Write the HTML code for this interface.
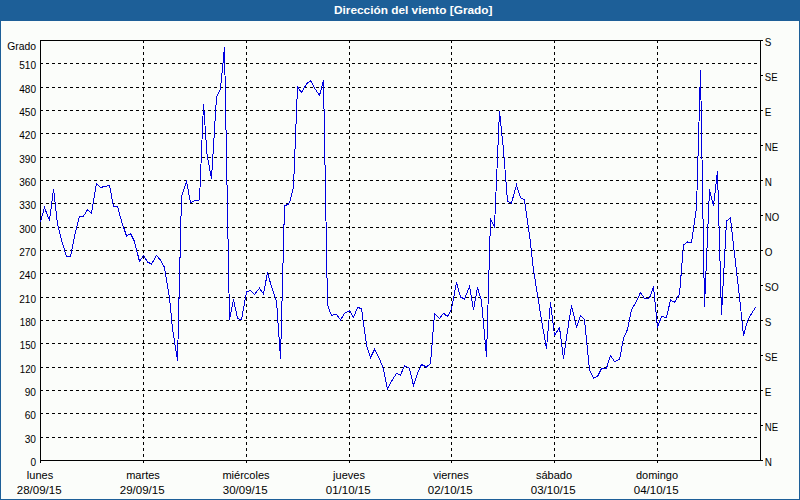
<!DOCTYPE html>
<html><head><meta charset="utf-8"><style>
html,body{margin:0;padding:0;width:800px;height:500px;overflow:hidden;background:#fbfdfa;}
svg{display:block;}
text{font-family:"Liberation Sans",sans-serif;font-size:11px;fill:#000000;}
</style></head><body>
<svg width="800" height="500" viewBox="0 0 800 500">
<rect x="0" y="0" width="800" height="500" fill="#fbfdfa"/>
<rect x="0" y="0" width="800" height="21" fill="#1d5f98"/>
<rect x="0" y="21" width="1" height="479" fill="#1d5f98"/>
<rect x="799" y="21" width="1" height="479" fill="#1d5f98"/>
<rect x="0" y="499" width="800" height="1" fill="#1d5f98"/>
<text x="334" y="14" textLength="158.5" lengthAdjust="spacingAndGlyphs" style="font-weight:bold;fill:#ffffff">Dirección del viento [Grado]</text>
<g shape-rendering="crispEdges" stroke="#000" stroke-width="1" fill="none">
<path d="M40 437.5H760 M40 413.5H760 M40 390.5H760 M40 367.5H760 M40 343.5H760 M40 320.5H760 M40 297.5H760 M40 273.5H760 M40 250.5H760 M40 227.5H760 M40 203.5H760 M40 180.5H760 M40 157.5H760 M40 133.5H760 M40 110.5H760 M40 87.5H760 M40 63.5H760" stroke-dasharray="3 3"/>
<path d="M143.5 40V460 M246.5 40V460 M349.5 40V460 M451.5 40V460 M554.5 40V460 M657.5 40V460" stroke-dasharray="3 3"/>
<path d="M40.5 40.5H760.5V460.5H40.5Z"/>
<path d="M760 40.5H763 M760 75.5H763 M760 110.5H763 M760 145.5H763 M760 180.5H763 M760 215.5H763 M760 250.5H763 M760 285.5H763 M760 320.5H763 M760 355.5H763 M760 390.5H763 M760 425.5H763 M760 460.5H763 M40.5 460V463 M143.5 460V463 M246.5 460V463 M349.5 460V463 M451.5 460V463 M554.5 460V463 M657.5 460V463"/>
</g>
<polyline points="40.5,221.8 44.5,207.6 49.5,220.5 53.5,189 57.5,224 61.5,240.25 66.5,256.5 70.5,256.5 74.5,236.25 79.5,216 83.5,216 87.5,209.9 91.5,213.5 96.5,183.5 100.5,187.5 104.5,186.5 109.5,185.5 113.5,206.5 117.5,206.2 121.5,221.1 126.5,236 130.5,233.5 134.5,241.5 139.5,261.5 143.5,255.5 147.5,262 151.5,264 156.5,255.5 160.5,260 164.5,267.5 169.5,297.5 172.5,328.5 177.5,360.5 181.5,196.25 186.5,181.25 190.5,202.5 194.5,200.75 199.5,200 203.5,104 207,154 211.5,178.75 216.5,97 220.5,88.75 224.5,47 229.5,320 233.5,299.4 237.5,318.5 241.5,319.75 246.5,291.9 250.5,290.6 254.5,294.4 259.5,288.2 263.5,294 267.5,272.5 271.5,286.75 276.5,301 280.5,358.5 284.5,206 289.5,203.5 293.5,187 297.5,86.9 301.5,92.5 306.5,84 310.5,80.5 314.5,88 319.5,95.5 323.5,80 327.5,305 331.5,315.5 336.5,314.2 340.5,320 344.5,313.5 349.5,310.5 353.5,317.4 357.5,307.5 361.5,308.5 366.5,345 370.5,357.5 374.5,349.5 379.5,359 383.5,369 387.5,389 391.5,381.25 396.5,373.5 400.5,375 404.5,365.5 409.5,368.5 413.5,385.5 417.5,373.5 421.5,364.5 426.5,367 430.5,363.5 434.5,313.5 439.5,318.5 443.5,313.2 447.5,316.5 451.5,309 456.5,282.5 460.5,297 464.5,299 469.5,286.5 473.5,309.5 477.5,287.5 481.5,301 486.5,356.5 490.5,219 494.5,226.5 499.5,111 503.5,150 507.5,201.5 511.5,203 516.5,185 520.5,197.5 524.5,200 529.5,235 533.5,270 537.5,295 541.5,320 546.5,348.5 550.5,302.5 554.5,335.5 559.5,327.5 563.5,358.5 567.5,331 571.5,305.5 576.5,327 580.5,315.5 584.5,319.5 589.5,370 593.5,378 597.5,376.5 601.5,368.5 606.5,368.2 610.5,355.5 614.5,361.5 619.5,359.5 623.5,338.5 627.5,329.5 631.5,310 636.5,301.25 640.5,292.5 644.5,298.5 649.5,298 653.5,286.5 657.5,327.5 661.5,316.5 666.5,317.5 670.5,300 674.5,302.5 679.5,294 683.5,245 687.5,242 691.5,242.5 696.5,208 700.5,70 704.5,306.5 709.5,189.5 713.5,206 717.5,171 721.5,314.5 726.5,221 730.5,218 734.5,254 739.5,297 743.5,335.5 747.5,321 751.5,313.5 755.5,307.5" fill="none" stroke="#0000e0" stroke-width="1" shape-rendering="crispEdges"/>
<text x="36" y="50" text-anchor="end" textLength="28.8" lengthAdjust="spacingAndGlyphs">Grado</text>
<text x="36" y="466" text-anchor="end" textLength="5.6" lengthAdjust="spacingAndGlyphs">0</text><text x="36" y="443" text-anchor="end" textLength="11.3" lengthAdjust="spacingAndGlyphs">30</text><text x="36" y="419" text-anchor="end" textLength="11.3" lengthAdjust="spacingAndGlyphs">60</text><text x="36" y="396" text-anchor="end" textLength="11.3" lengthAdjust="spacingAndGlyphs">90</text><text x="36" y="373" text-anchor="end" textLength="16.2" lengthAdjust="spacingAndGlyphs">120</text><text x="36" y="349" text-anchor="end" textLength="16.2" lengthAdjust="spacingAndGlyphs">150</text><text x="36" y="326" text-anchor="end" textLength="16.2" lengthAdjust="spacingAndGlyphs">180</text><text x="36" y="303" text-anchor="end" textLength="16.8" lengthAdjust="spacingAndGlyphs">210</text><text x="36" y="279" text-anchor="end" textLength="16.8" lengthAdjust="spacingAndGlyphs">240</text><text x="36" y="256" text-anchor="end" textLength="16.8" lengthAdjust="spacingAndGlyphs">270</text><text x="36" y="233" text-anchor="end" textLength="16.8" lengthAdjust="spacingAndGlyphs">300</text><text x="36" y="209" text-anchor="end" textLength="16.8" lengthAdjust="spacingAndGlyphs">330</text><text x="36" y="186" text-anchor="end" textLength="16.8" lengthAdjust="spacingAndGlyphs">360</text><text x="36" y="163" text-anchor="end" textLength="16.8" lengthAdjust="spacingAndGlyphs">390</text><text x="36" y="139" text-anchor="end" textLength="16.8" lengthAdjust="spacingAndGlyphs">420</text><text x="36" y="116" text-anchor="end" textLength="16.8" lengthAdjust="spacingAndGlyphs">450</text><text x="36" y="93" text-anchor="end" textLength="16.8" lengthAdjust="spacingAndGlyphs">480</text><text x="36" y="69" text-anchor="end" textLength="16.8" lengthAdjust="spacingAndGlyphs">510</text>
<text x="764.8" y="46" textLength="6.61" lengthAdjust="spacingAndGlyphs">S</text><text x="764.8" y="81" textLength="12.78" lengthAdjust="spacingAndGlyphs">SE</text><text x="764.8" y="116" textLength="6.61" lengthAdjust="spacingAndGlyphs">E</text><text x="764.8" y="151" textLength="13.29" lengthAdjust="spacingAndGlyphs">NE</text><text x="764.8" y="186" textLength="7.16" lengthAdjust="spacingAndGlyphs">N</text><text x="764.8" y="221" textLength="14.36" lengthAdjust="spacingAndGlyphs">NO</text><text x="764.8" y="256" textLength="7.7" lengthAdjust="spacingAndGlyphs">O</text><text x="764.8" y="291" textLength="13.83" lengthAdjust="spacingAndGlyphs">SO</text><text x="764.8" y="326" textLength="6.61" lengthAdjust="spacingAndGlyphs">S</text><text x="764.8" y="361" textLength="12.78" lengthAdjust="spacingAndGlyphs">SE</text><text x="764.8" y="396" textLength="6.61" lengthAdjust="spacingAndGlyphs">E</text><text x="764.8" y="431" textLength="13.29" lengthAdjust="spacingAndGlyphs">NE</text><text x="764.8" y="466" textLength="7.16" lengthAdjust="spacingAndGlyphs">N</text>
<text x="40" y="479" text-anchor="middle">lunes</text><text x="39.2" y="494" text-anchor="middle" textLength="44.8" lengthAdjust="spacingAndGlyphs">28/09/15</text><text x="143" y="479" text-anchor="middle">martes</text><text x="142.2" y="494" text-anchor="middle" textLength="44.8" lengthAdjust="spacingAndGlyphs">29/09/15</text><text x="246" y="479" text-anchor="middle">miércoles</text><text x="245.2" y="494" text-anchor="middle" textLength="44.8" lengthAdjust="spacingAndGlyphs">30/09/15</text><text x="349" y="479" text-anchor="middle">jueves</text><text x="348.2" y="494" text-anchor="middle" textLength="44.8" lengthAdjust="spacingAndGlyphs">01/10/15</text><text x="451" y="479" text-anchor="middle">viernes</text><text x="450.2" y="494" text-anchor="middle" textLength="44.8" lengthAdjust="spacingAndGlyphs">02/10/15</text><text x="554" y="479" text-anchor="middle">sábado</text><text x="553.2" y="494" text-anchor="middle" textLength="44.8" lengthAdjust="spacingAndGlyphs">03/10/15</text><text x="657" y="479" text-anchor="middle">domingo</text><text x="656.2" y="494" text-anchor="middle" textLength="44.8" lengthAdjust="spacingAndGlyphs">04/10/15</text>
</svg>
</body></html>
